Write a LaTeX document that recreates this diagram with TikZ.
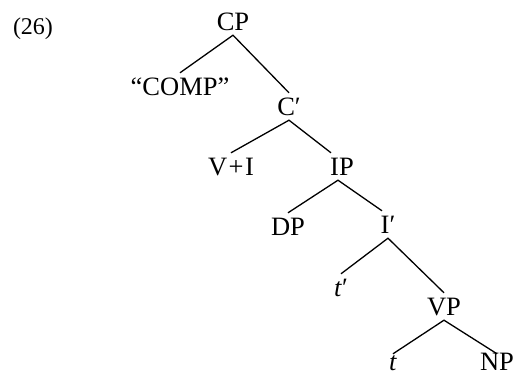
\documentclass[tikz,border=0pt]{standalone}
\usepackage{fontspec}
\setmainfont{Liberation Serif}
\begin{document}
\begin{tikzpicture}[x=1pt,y=-1pt,
  lab/.style={anchor=base,font=\fontsize{26.5}{30}\selectfont,text height=17pt,text depth=0pt,inner xsep=1pt,inner ysep=5pt},
  low/.style={text height=14pt,inner ysep=2pt},
  br/.style={line width=1.3pt}]
\useasboundingbox (0,0) rectangle (515,375);
\node[anchor=base,font=\fontsize{24}{28}\selectfont] (n26) at (33,34) {(26)};
\node[lab] (cp) at (233,30) {CP};
\node[lab] (comp) at (180,95) {“COMP”};
\node[lab] (cbar) at (289,115) {C′};
\node[lab] (vi) at (231,175) {V\kern1.5pt+\kern1.5pt I};
\node[lab] (ip) at (342,175) {IP};
\node[lab] (dp) at (288,235) {DP};
\node[lab] (ibar) at (388,233) {I′};
\node[lab] (tp) at (341,296) {\textit{t}′};
\node[lab] (vp) at (444,315) {VP};
\node[lab,low] (t) at (393,370) {\textit{t}};
\node[lab,low] (np) at (497,370) {NP};
\draw[br] (comp.north) -- (cp.south) -- (cbar.north);
\draw[br] (vi.north) -- (cbar.south) -- ([xshift=-11pt]ip.north);
\draw[br] (dp.north) -- ([xshift=-4pt]ip.south) -- ([xshift=-6pt]ibar.north);
\draw[br] (tp.north) -- (ibar.south) -- (vp.north);
\draw[br] (t.north) -- (vp.south) -- (np.north);
\end{tikzpicture}
\end{document}
